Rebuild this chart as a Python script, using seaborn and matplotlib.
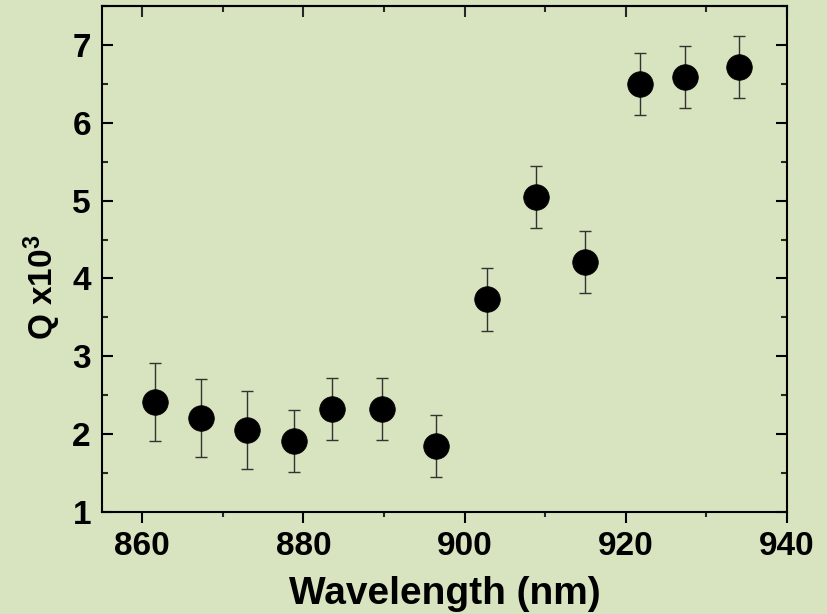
import matplotlib
matplotlib.use("Agg")
import matplotlib.pyplot as plt
from matplotlib.ticker import MultipleLocator
import seaborn as sns
import pandas as pd

wavelength = [861.6, 867.3, 873.0, 878.8, 883.6, 889.8, 896.5, 902.8, 908.9, 914.9, 921.7, 927.4, 934.0]
q_value = [2.41, 2.21, 2.05, 1.91, 2.32, 2.32, 1.85, 3.73, 5.05, 4.21, 6.50, 6.59, 6.72]
q_error = [0.50, 0.50, 0.50, 0.40, 0.40, 0.40, 0.40, 0.40, 0.40, 0.40, 0.40, 0.40, 0.40]

x_ticks = [860, 880, 900, 920, 940]
y_ticks = [1, 2, 3, 4, 5, 6, 7]

bg = "#D8E3BF"
sns.set_theme(style="ticks")
plt.rcParams["font.family"] = ["Liberation Sans", "DejaVu Sans"]
plt.rcParams["font.weight"] = "bold"
plt.rcParams["text.color"] = "black"
plt.rcParams["axes.labelcolor"] = "black"
plt.rcParams["mathtext.fontset"] = "custom"
plt.rcParams["mathtext.rm"] = "Liberation Sans:bold"
plt.rcParams["mathtext.bf"] = "Liberation Sans:bold"
plt.rcParams["mathtext.it"] = "Liberation Sans:bold"

df = pd.DataFrame({"wavelength": wavelength, "q": q_value, "err": q_error})

fig = plt.figure(figsize=(8.27, 6.14), dpi=100, facecolor=bg)
ax = fig.add_axes([102 / 827, 1 - 512 / 614, (787 - 102) / 827, (512 - 6) / 614])
ax.set_facecolor(bg)

ax.errorbar(df["wavelength"], df["q"], yerr=df["err"], fmt="none",
            ecolor="#333333", elinewidth=1.0, capsize=4, capthick=1.0, zorder=2)
sns.scatterplot(data=df, x="wavelength", y="q", ax=ax, s=340, color="black",
                edgecolor="black", linewidth=0.5, zorder=3, legend=False)

ax.set_xlim(855, 940)
ax.set_ylim(1, 7.5)
ax.set_xticks(x_ticks)
ax.set_yticks(y_ticks)
ax.xaxis.set_minor_locator(MultipleLocator(10))
ax.yaxis.set_minor_locator(MultipleLocator(0.5))

ax.tick_params(axis="x", which="major", direction="out", length=8, width=1.5,
               labelsize=24, pad=6, colors="black", top=False)
ax.tick_params(axis="x", which="minor", direction="out", length=3.5, width=1.5, top=False)
ax.tick_params(axis="y", which="major", direction="in", length=8, width=1.5,
               labelsize=24, pad=8, left=True, right=True, colors="black")
ax.tick_params(axis="y", which="minor", direction="in", length=4.5, width=1.5,
               left=True, right=True)
for lab in ax.get_xticklabels() + ax.get_yticklabels():
    lab.set_fontweight("bold")

sec = ax.secondary_xaxis("top")
sec.set_xticks(x_ticks)
sec.xaxis.set_minor_locator(MultipleLocator(10))
sec.tick_params(axis="x", which="major", direction="in", length=8, width=1.5, labeltop=False)
sec.tick_params(axis="x", which="minor", direction="in", length=4.5, width=1.5)
sec.set_xticklabels([])
sec.spines["top"].set_linewidth(1.5)

for s in ax.spines.values():
    s.set_linewidth(1.5)
    s.set_color("black")

ax.set_xlabel("Wavelength (nm)", fontsize=28, fontweight="bold", labelpad=10, color="black")
ax.set_ylabel(r"Q x10$^{\mathbf{3}}$", fontsize=24, fontweight="bold", color="black")
ax.yaxis.set_label_coords(-0.057, 0.445)

fig.savefig("out.png", dpi=100, facecolor=bg)
